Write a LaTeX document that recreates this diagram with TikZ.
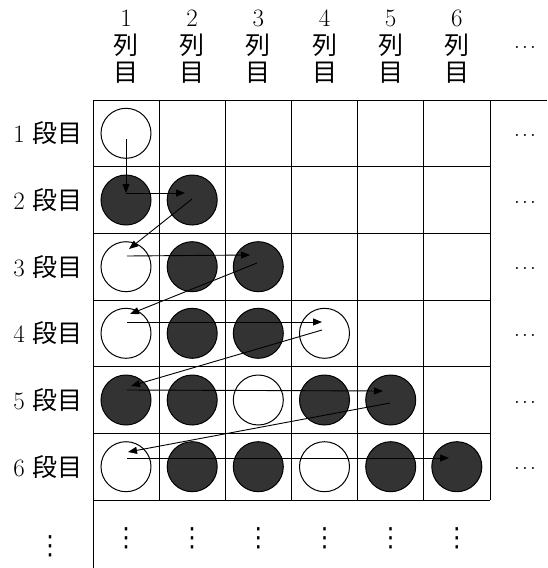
\documentclass[tikz,border=0pt]{standalone}
\usepackage{fontspec}
\newfontfamily\jp{Noto Sans CJK JP}
\newfontfamily\dv{DejaVu Sans}
\usetikzlibrary{arrows.meta}
\newcommand\myhdots{\hbox{.\kern1.8pt.\kern1.8pt.}}
\tikzset{
  gridline/.style={line width=1pt},
  stone/.style={circle, draw, line width=1pt, minimum size=50pt, inner sep=0pt},
  wstone/.style={stone, fill=white},
  bstone/.style={stone, fill=black!80},
  link/.style={line width=0.9pt, -{Triangle[length=9pt,width=7pt]}},
  lbl/.style={font=\fontsize{25}{27.5}\selectfont, inner sep=0pt},
  dots/.style={font=\fontsize{25}{27.5}\selectfont, inner sep=0pt},
  vdotsnode/.style={font=\dv\fontsize{24}{26}\selectfont, inner sep=0pt, yscale=1.1}
}
\begin{document}
\begin{tikzpicture}[x=1pt,y=-1pt]
\useasboundingbox (0,0) rectangle (547,568);
% grid
\draw[gridline] (93,100) -- (547,100);
\draw[gridline] (93,100) -- (93,568);
\foreach \y in {166.7,233.3,300,366.7,433.3,500}
  \draw[gridline] (93,\y) -- (490,\y);
\foreach \x in {159.2,225.3,291.5,357.7,423.8,490}
  \draw[gridline] (\x,100) -- (\x,500);
% headers
\foreach \c/\x in {1/126,2/192.2,3/258.3,4/324.5,5/390.7,6/456.8}
  \node[lbl, align=center] (col\c) at (\x,47) {\c\\{\jp 列}\\{\jp 目}};
\node[dots] (colmore) at (525,47) {\myhdots};
\foreach \r/\y in {1/133.3,2/200,3/266.7,4/333.3,5/400,6/466.7}{
  \node[lbl] (row\r) at (48,\y) {\r\ {\jp 段目}};
  \node[dots] (more\r) at (525,\y+2) {\myhdots};
}
\node[vdotsnode] (rowmore) at (50,546) {⋮};
\foreach \c/\x in {1/126,2/192.2,3/258.3,4/324.5,5/390.7,6/456.8}
  \node[vdotsnode] (vd\c) at (\x,538) {⋮};
% stones
\node[wstone] (s11) at (126,133.3) {};
\node[bstone] (s21) at (126,200) {};
\node[bstone] (s22) at (192.2,200) {};
\node[wstone] (s31) at (126,266.7) {};
\node[bstone] (s32) at (192.2,266.7) {};
\node[bstone] (s33) at (258.3,266.7) {};
\node[wstone] (s41) at (126,333.3) {};
\node[bstone] (s42) at (192.2,333.3) {};
\node[bstone] (s43) at (258.3,333.3) {};
\node[wstone] (s44) at (324.5,333.3) {};
\node[bstone] (s51) at (126,400) {};
\node[bstone] (s52) at (192.2,400) {};
\node[wstone] (s53) at (258.3,400) {};
\node[bstone] (s54) at (324.5,400) {};
\node[bstone] (s55) at (390.7,400) {};
\node[wstone] (s61) at (126,466.7) {};
\node[bstone] (s62) at (192.2,466.7) {};
\node[bstone] (s63) at (258.3,466.7) {};
\node[wstone] (s64) at (324.5,466.7) {};
\node[bstone] (s65) at (390.7,466.7) {};
\node[bstone] (s66) at (456.8,466.7) {};
% path points
\coordinate (a1) at (126,139);
\coordinate (v2) at (126,193);
\coordinate (h2e) at (185,193);
\coordinate (d2s) at (192,199);
\coordinate (d2e) at (129,249);
\coordinate (h3s) at (127,256);
\coordinate (h3e) at (250,255);
\coordinate (d3s) at (257,263);
\coordinate (d3e) at (130,314);
\coordinate (h4s) at (127,322);
\coordinate (h4e) at (322,322);
\coordinate (d4s) at (322,330);
\coordinate (d4e) at (131,386);
\coordinate (h5s) at (127,390);
\coordinate (h5e) at (383,391);
\coordinate (d5s) at (390,403);
\coordinate (d5e) at (128,452);
\coordinate (h6s) at (127,458);
\coordinate (h6e) at (449,458);
% links
\draw[link] (a1) -- (v2);
\draw[link] (v2) -- (h2e);
\draw[link] (d2s) -- (d2e);
\draw[link] (h3s) -- (h3e);
\draw[link] (d3s) -- (d3e);
\draw[link] (h4s) -- (h4e);
\draw[link] (d4s) -- (d4e);
\draw[link] (h5s) -- (h5e);
\draw[link] (d5s) -- (d5e);
\draw[link] (h6s) -- (h6e);
\end{tikzpicture}
\end{document}
